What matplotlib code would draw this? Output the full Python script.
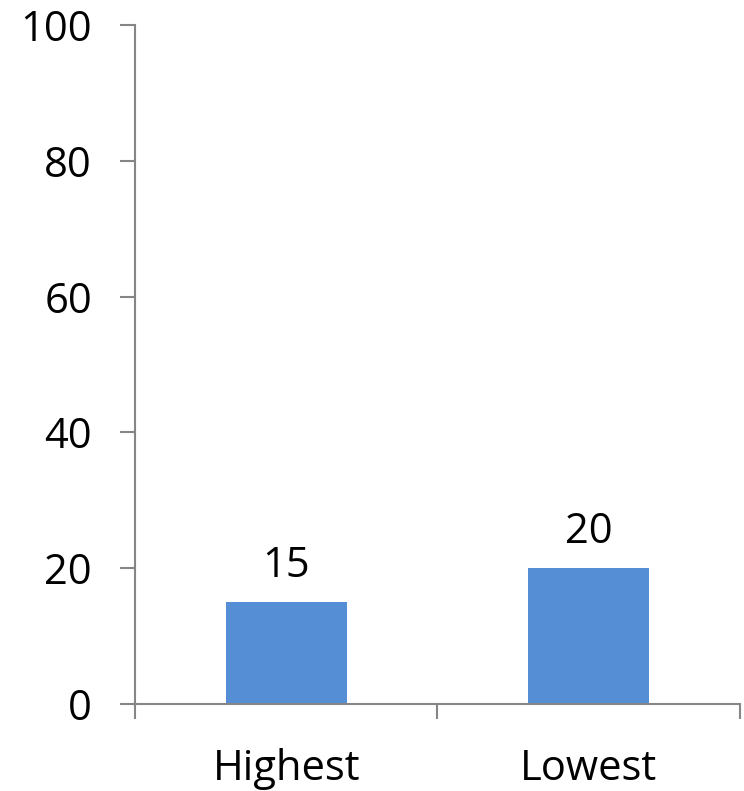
import matplotlib.pyplot as plt

# ── Data ──────────────────────────────────────────────────────────────────────
categories = ['Highest', 'Lowest']
values     = [15, 20]
y_ticks    = [0, 20, 40, 60, 80, 100]

BAR_COLOR  = '#558ED5'
AXIS_COLOR = '#868686'
FONT_SIZE  = 30

plt.rcParams['font.family'] = ['Open Sans', 'DejaVu Sans']

fig = plt.figure(figsize=(7.44, 7.91), dpi=100)
ax = fig.add_axes([0.1815, 0.11, 0.813, 0.8584])

x = range(len(categories))
bars = ax.bar(x, values, width=0.4, color=BAR_COLOR, zorder=2)

for b, v in zip(bars, values):
    ax.annotate(str(v), (b.get_x() + b.get_width() / 2, v),
                xytext=(0, 11), textcoords='offset points',
                ha='center', va='bottom', fontsize=FONT_SIZE)

ax.set_xlim(-0.5, len(categories) - 0.5)
ax.set_ylim(0, 100)
ax.set_yticks(y_ticks)

# category ticks sit between groups, labels at centres
ax.set_xticks([-0.5, 0.5, 1.5])
ax.set_xticklabels([])
ax.set_xticks(list(x), minor=True)
ax.set_xticklabels(categories, minor=True, fontsize=FONT_SIZE)
ax.tick_params(axis='x', which='minor', length=0, pad=32)
ax.tick_params(axis='x', which='major', length=11, width=1.5, color=AXIS_COLOR)
ax.tick_params(axis='y', length=11, width=1.5, color=AXIS_COLOR,
               labelsize=FONT_SIZE, pad=20)

for side in ['top', 'right']:
    ax.spines[side].set_visible(False)
for side in ['left', 'bottom']:
    ax.spines[side].set_color(AXIS_COLOR)
    ax.spines[side].set_linewidth(1.5)

fig.savefig('out.png', dpi=100)
